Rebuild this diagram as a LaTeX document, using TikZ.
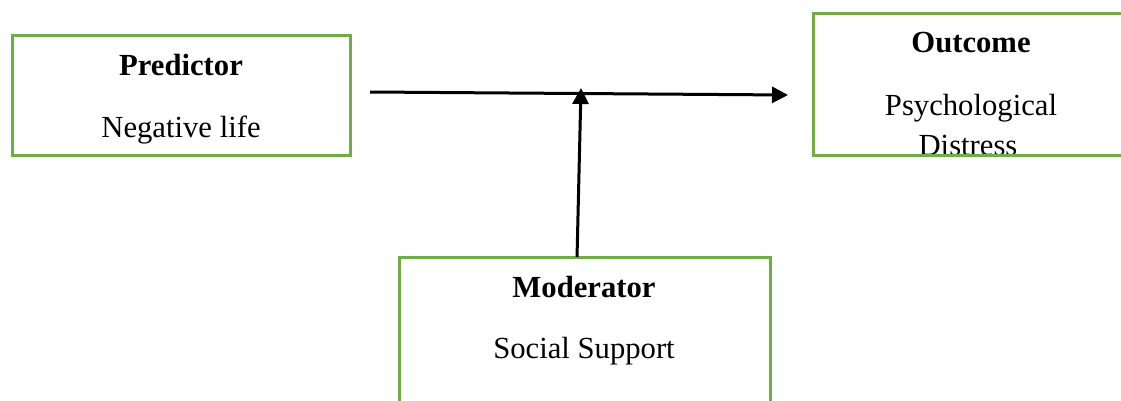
\documentclass[tikz,border=0pt]{standalone}
\usepackage{fontspec}
\setmainfont{Liberation Serif}
\usetikzlibrary{arrows.meta}
\definecolor{boxgreen}{HTML}{70AD47}
\begin{document}
\begin{tikzpicture}[x=0.75pt,y=-0.75pt,
  varbox/.style={draw=boxgreen,line width=2.25pt,rectangle,inner sep=0pt,outer sep=0pt},
  lbl/.style={anchor=base,inner sep=0pt,font=\fontsize{23}{27}\selectfont},
  conn/.style={line width=2.25pt,-{Triangle[length=12pt,width=12pt]}}]
\useasboundingbox (0,0) rectangle (1121,400);
\clip (0,0) rectangle (1121,400);
\node[varbox,minimum width=253.5pt,minimum height=90pt] (pred) at (181,95) {};
\node[varbox,minimum width=234pt,minimum height=106.5pt] (out) at (969,84) {};
\node[varbox,minimum width=278.25pt,minimum height=111pt] (mod) at (584.5,331) {};
\node[lbl,font=\fontsize{23}{27}\selectfont\bfseries] (predt) at (181,75) {Predictor};
\node[lbl] (predv) at (181,137) {Negative life};
\node[lbl,font=\fontsize{23}{27}\selectfont\bfseries] (outt) at (971,52) {Outcome};
\node[lbl] (outv1) at (971,115) {Psychological};
\node[lbl] (outv2) at (968,155) {Distress};
\node[lbl,font=\fontsize{23}{27}\selectfont\bfseries] (modt) at (584,297) {Moderator};
\node[lbl] (modv) at (584,358) {Social Support};
\coordinate (hs) at (370,92);
\coordinate (he) at (788,95);
\coordinate (mid) at (581,88);
\draw[conn] (hs) -- (he);
\draw[conn] ([xshift=-5.6pt]mod.north) -- (mid);
\draw[draw=boxgreen,line width=2.25pt] (out.south west) -- (out.south east);
\end{tikzpicture}
\end{document}
